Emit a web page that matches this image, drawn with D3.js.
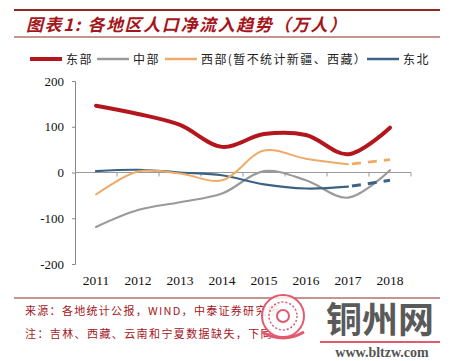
<!DOCTYPE html>
<html>
<head>
<meta charset="utf-8">
<script src="https://cdn.jsdelivr.net/npm/d3@7"></script>
<style>
  body { margin: 0; background: #fff; }
  svg { display: block; }
</style>
</head>
<body>
<div class="container"></div>
<script>
  // data
  var years = ["2011", "2012", "2013", "2014", "2015", "2016", "2017", "2018"];
  var east = [146, 128, 104, 56, 84, 82, 40, 98];
  var central = [-119, -82, -65, -46, 3, -17, -55, 5];
  var west = [-48, 2, -2, -17, 48, 30, 18, 28];
  var northeast = [3, 6, 0, -6, -26, -35, -31, -17];
  var yTicks = [200, 100, 0, -100, -200];

  var legendNames = ["东部", "中部", "西部(暂不统计新疆、西藏）", "东北"];

  // frame
  var w = 454;
  var h = 361;
  var svg = d3.select(".container").append("svg").attr("width", w).attr("height", h);

  var cjk = "'Noto Sans CJK SC', sans-serif";
  var red = "#a5161b";

  // rules + title
  svg.append("line").attr("x1", 14).attr("x2", 440).attr("y1", 10).attr("y2", 10)
    .attr("stroke", "#8e2a22").attr("stroke-width", 2);
  svg.append("line").attr("x1", 14).attr("x2", 440).attr("y1", 37).attr("y2", 37)
    .attr("stroke", "#8e2a22").attr("stroke-width", 1);
  svg.append("text").attr("x", 26).attr("y", 31)
    .attr("font-family", cjk).attr("font-size", 17).attr("font-weight", "bold")
    .attr("font-style", "italic").attr("fill", red).attr("letter-spacing", 1.6)
    .text("图表1:  各地区人口净流入趋势（万人）");

  // scales
  var x = d3.scaleBand().domain(years).range([75, 411]);
  var y = d3.scaleLinear().domain([-200, 200]).range([264, 81]);
  var xc = function(d) { return x(d) + x.bandwidth() / 2; };

  // y axis
  var yAxis = d3.axisLeft(y).tickValues(yTicks).tickSize(3).tickPadding(8)
    .tickFormat(function(d) { return String(d); });
  var gy = svg.append("g").attr("transform", "translate(75,0)").call(yAxis);
  gy.select(".domain").attr("stroke", "#888");
  gy.selectAll(".tick line").attr("stroke", "#888");
  gy.selectAll("text").attr("font-family", "'Liberation Serif', serif").attr("font-size", 13).attr("fill", "#111");

  // x axis at zero
  var xAxis = d3.axisBottom(x).tickSize(4).tickFormat("");
  var gx = svg.append("g").attr("transform", "translate(0," + y(0) + ")").call(xAxis);
  gx.select(".domain").attr("stroke", "#999").attr("d", "M75,0H411");
  gx.selectAll(".tick").remove();
  var edges = d3.range(years.length + 1).map(function(i) { return 75 + i * x.bandwidth(); }).slice(1);
  gx.selectAll(".edge").data(edges).enter().append("line")
    .attr("x1", function(d) { return d; }).attr("x2", function(d) { return d; })
    .attr("y1", 0).attr("y2", 4).attr("stroke", "#999");

  // year labels along bottom
  svg.selectAll(".yr").data(years).enter().append("text")
    .attr("x", xc).attr("y", 285).attr("text-anchor", "middle")
    .attr("font-family", "'Liberation Serif', serif").attr("font-size", 13.5).attr("fill", "#111")
    .text(function(d) { return d; });

  // lines
  var line = d3.line().x(function(d) { return xc(d[0]); }).y(function(d) { return y(d[1]); })
    .curve(d3.curveCatmullRom.alpha(0.5));

  var series = [
    { vals: central, color: "#9a9a9a", width: 2.2, dashLast: false },
    { vals: northeast, color: "#3c6284", width: 2.2, dashLast: true },
    { vals: west, color: "#f0aa68", width: 2, dashLast: true },
    { vals: east, color: "#b3171d", width: 4, dashLast: false }
  ];

  series.forEach(function(s) {
    var pts = years.map(function(yr, i) { return [yr, s.vals[i]]; });
    if (s.dashLast) {
      svg.append("path").datum(pts.slice(0, 7)).attr("d", line)
        .attr("fill", "none").attr("stroke", s.color).attr("stroke-width", s.width).attr("stroke-linecap", "round");
      svg.append("path").datum(pts.slice(6)).attr("d", line)
        .attr("fill", "none").attr("stroke", s.color).attr("stroke-width", s.width + 0.8)
        .attr("stroke-dasharray", "9,7").attr("stroke-dashoffset", -4);
    } else {
      svg.append("path").datum(pts).attr("d", line)
        .attr("fill", "none").attr("stroke", s.color).attr("stroke-width", s.width).attr("stroke-linecap", "round");
    }
  });

  // legend
  var legendColors = ["#b3171d", "#9a9a9a", "#f0aa68", "#3c6284"];
  var legendX = [30, 97, 165, 367];
  var legend = svg.selectAll(".lg").data(legendNames).enter().append("g")
    .attr("transform", function(d, i) { return "translate(" + legendX[i] + ",59)"; });
  legend.append("line").attr("x1", 0).attr("x2", 32).attr("y1", 0).attr("y2", 0)
    .attr("stroke", function(d, i) { return legendColors[i]; })
    .attr("stroke-width", function(d, i) { return i == 0 ? 4 : 2.5; });
  legend.append("text").attr("x", 36).attr("y", 4.5)
    .attr("font-family", cjk).attr("font-size", 12).attr("fill", "#222").attr("letter-spacing", 1.4)
    .text(function(d) { return d; });

  // footer
  svg.append("line").attr("x1", 14).attr("x2", 440).attr("y1", 298).attr("y2", 298)
    .attr("stroke", "#8e2a22").attr("stroke-width", 1);
  svg.append("text").attr("x", 25).attr("y", 315)
    .attr("font-family", cjk).attr("font-size", 11).attr("fill", red).attr("letter-spacing", 1.3)
    .text("来源：各地统计公报，WIND，中泰证券研究所");
  svg.append("text").attr("x", 25).attr("y", 338)
    .attr("font-family", cjk).attr("font-size", 11).attr("fill", red).attr("letter-spacing", 1.4)
    .text("注：吉林、西藏、云南和宁夏数据缺失，下同");

  // watermark
  var wm = svg.append("g");
  wm.append("circle").attr("cx", 283).attr("cy", 316).attr("r", 21)
    .attr("fill", "#fff").attr("fill-opacity", 0.85).attr("stroke", "#e25a6e").attr("stroke-width", 2);
  wm.append("circle").attr("cx", 283).attr("cy", 316).attr("r", 14)
    .attr("fill", "none").attr("stroke", "#e25a6e").attr("stroke-width", 1.5).attr("stroke-dasharray", "2,2");
  wm.append("circle").attr("cx", 283).attr("cy", 316).attr("r", 6)
    .attr("fill", "none").attr("stroke", "#e25a6e").attr("stroke-width", 2);
  wm.append("path").attr("d", "M262,332 Q283,344 304,332").attr("fill", "none")
    .attr("stroke", "#e25a6e").attr("stroke-width", 3);
  wm.append("rect").attr("x", 318).attr("y", 299).attr("width", 126).attr("height", 60).attr("fill", "#fff").attr("fill-opacity", 0.8);
  wm.append("text").attr("x", 380).attr("y", 333).attr("text-anchor", "middle")
    .attr("font-family", cjk).attr("font-size", 36).attr("font-weight", "bold").attr("fill", "#5a5a5a")
    .text("铜州网");
  wm.append("line").attr("x1", 320).attr("x2", 440).attr("y1", 342).attr("y2", 342)
    .attr("stroke", "#e25a6e").attr("stroke-width", 2);
  wm.append("text").attr("x", 382).attr("y", 357).attr("text-anchor", "middle")
    .attr("font-family", "'Liberation Serif', serif").attr("font-size", 14).attr("font-weight", "bold").attr("fill", "#555")
    .text("www.bltzw.com");
</script>
</body>
</html>
